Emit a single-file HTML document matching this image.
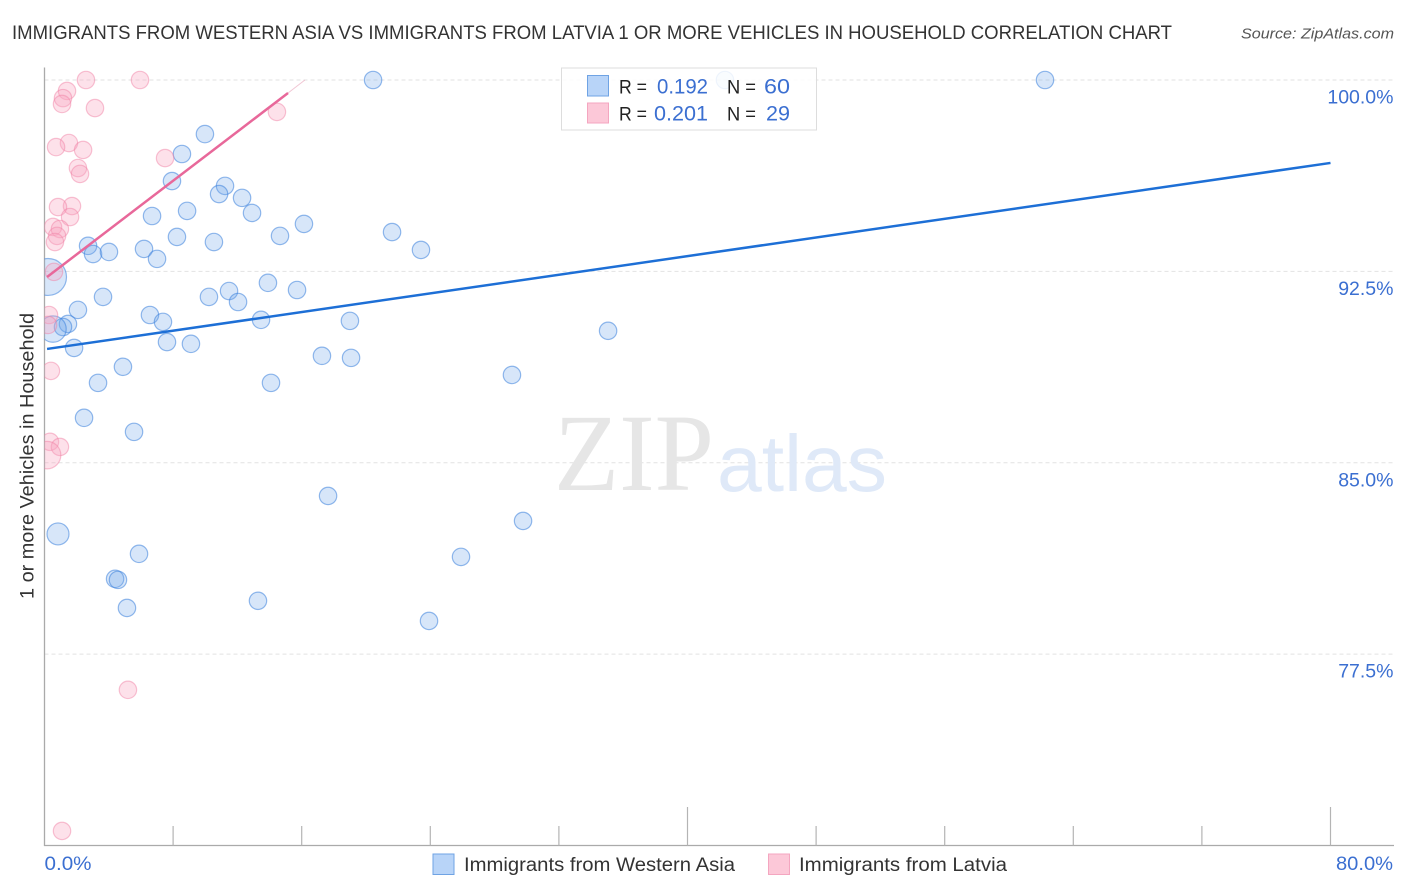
<!DOCTYPE html>
<html lang="en">
<head>
<meta charset="utf-8">
<title>Immigrants from Western Asia vs Immigrants from Latvia correlation chart</title>
<style>
html,body{margin:0;padding:0;background:#fff;width:1406px;height:892px;overflow:hidden}
svg{display:block}
text{font-family:"Liberation Sans",sans-serif}
</style>
</head>
<body>
<svg id="chart" xmlns="http://www.w3.org/2000/svg" width="1406" height="892" viewBox="0 0 1406 892">
  <defs><clipPath id="plot-clip"><rect x="44.5" y="60" width="1350" height="786"/></clipPath></defs>
  <rect x="0" y="0" width="1406" height="892" fill="#fff"/>
  <text x="12" y="39" font-size="19.5" fill="#333" textLength="1160" lengthAdjust="spacingAndGlyphs">IMMIGRANTS FROM WESTERN ASIA VS IMMIGRANTS FROM LATVIA 1 OR MORE VEHICLES IN HOUSEHOLD CORRELATION CHART</text>
  <text x="1241" y="38.5" font-size="15" font-style="italic" fill="#555" textLength="153" lengthAdjust="spacingAndGlyphs">Source: ZipAtlas.com</text>
  <g id="grid"></g>
  <g>
    <text x="554" y="490" style="font-family:'Liberation Serif',serif" font-size="110" fill="#e6e6e6" textLength="160" lengthAdjust="spacingAndGlyphs">ZIP</text>
    <text x="717" y="491" font-size="80" fill="#dfe9f8" textLength="170" lengthAdjust="spacingAndGlyphs">atlas</text>
  </g>
  <g id="axes"></g>
  <g id="marks" clip-path="url(#plot-clip)"></g>
  <g id="trends"></g>
  <g id="ylabels"></g>
  <text transform="translate(33.5,456) rotate(-90)" text-anchor="middle" font-size="19" fill="#333" textLength="286" lengthAdjust="spacingAndGlyphs">1 or more Vehicles in Household</text>
  <text x="44.5" y="870" font-size="19" fill="#3b6fd1" textLength="47" lengthAdjust="spacingAndGlyphs">0.0%</text>
  <text x="1336" y="870" font-size="19" fill="#3b6fd1" textLength="57" lengthAdjust="spacingAndGlyphs">80.0%</text>

  <g>
    <rect x="561.5" y="68" width="255" height="62" fill="#fff" fill-opacity="0.85" stroke="#ddd" stroke-width="1"/>
    <rect x="587.5" y="75.5" width="21" height="20.5" fill="#b8d4f8" stroke="#6fa3e4" stroke-width="1"/>
    <rect x="587.5" y="103" width="21" height="20" fill="#fcc8d8" stroke="#f4a6c0" stroke-width="1"/>
    <text x="619" y="93.5" font-size="19.5" fill="#222" textLength="28" lengthAdjust="spacingAndGlyphs">R =</text>
    <text x="657" y="93.5" font-size="21" fill="#3b6fd1" textLength="51" lengthAdjust="spacingAndGlyphs">0.192</text>
    <text x="727" y="93.5" font-size="19.5" fill="#222" textLength="29" lengthAdjust="spacingAndGlyphs">N =</text>
    <text x="764" y="93.5" font-size="21" fill="#3b6fd1" textLength="26" lengthAdjust="spacingAndGlyphs">60</text>
    <text x="619" y="120.5" font-size="19.5" fill="#222" textLength="28" lengthAdjust="spacingAndGlyphs">R =</text>
    <text x="654" y="120.5" font-size="21" fill="#3b6fd1" textLength="54" lengthAdjust="spacingAndGlyphs">0.201</text>
    <text x="727" y="120.5" font-size="19.5" fill="#222" textLength="29" lengthAdjust="spacingAndGlyphs">N =</text>
    <text x="766" y="120.5" font-size="21" fill="#3b6fd1" textLength="24" lengthAdjust="spacingAndGlyphs">29</text>
  </g>

  <g>
    <rect x="433" y="854" width="21" height="20.5" fill="#b8d4f8" stroke="#6fa3e4" stroke-width="1"/>
    <text x="464" y="871" font-size="19" fill="#333" textLength="271" lengthAdjust="spacingAndGlyphs">Immigrants from Western Asia</text>
    <rect x="768.5" y="854" width="21" height="20.5" fill="#fcc8d8" stroke="#f4a6c0" stroke-width="1"/>
    <text x="799" y="871" font-size="19" fill="#333" textLength="208" lengthAdjust="spacingAndGlyphs">Immigrants from Latvia</text>
  </g>
</svg>
<script>
const yTickValues = [100, 92.5, 85, 77.5];
const yTickLabels = ["100.0%", "92.5%", "85.0%", "77.5%"];
const xTickValues = [8, 16, 24, 32, 40, 48, 56, 64, 72, 80];
const xMajorTicks = [40, 80];

const westernAsiaX = [20.44,42.33,62.24,9.98,8.55,7.93,11.23,10.86,12.29,8.87,12.91,6.69,16.14,14.65,21.62,8.24,10.54,2.71,6.19,3.02,4.01,7.00,23.42,13.90,15.71,11.48,3.64,10.23,12.04,2.08,6.56,7.37,13.47,19.00,1.46,1.15,0.53,0.22,1.84,7.62,9.11,17.26,19.07,35.06,4.88,3.33,14.09,29.08,2.46,5.57,17.64,29.77,0.84,5.88,25.91,4.39,4.57,5.13,13.28,23.92];
const westernAsiaY = [100,100,100,97.88,97.10,96.04,95.85,95.53,95.38,94.87,94.79,94.67,94.36,93.89,94.04,93.85,93.65,93.50,93.38,93.18,93.26,92.99,93.34,92.05,91.77,91.73,91.50,91.50,91.30,90.99,90.79,90.52,90.60,90.56,90.44,90.32,90.24,92.28,89.50,89.73,89.66,89.19,89.11,90.17,88.76,88.13,88.13,88.44,86.76,86.21,83.70,82.72,82.21,81.43,81.31,80.45,80.41,79.31,79.59,78.80];
const westernAsiaWeight = [1,1,1,1,1,1,1,1,1,1,1,1,1,1,1,1,1,1,1,1,1,1,1,1,1,1,1,1,1,1,1,1,1,1,1,1,2.3,4.5,1,1,1,1,1,1,1,1,1,1,1,1,1,1,1.6,1,1,1,1,1,1,1];

const latviaX = [2.58,5.94,1.40,1.15,1.09,3.14,14.46,1.52,0.72,2.40,7.50,2.08,2.21,1.71,0.84,1.59,0.53,0.96,0.78,0.65,0.59,0.28,0.22,0.40,0.34,0.96,0.16,5.19,1.09];
const latviaY = [100,100,99.57,99.29,99.06,98.90,98.75,97.53,97.37,97.26,96.94,96.55,96.32,95.06,95.02,94.63,94.24,94.16,93.89,93.65,92.48,90.79,90.40,88.60,85.82,85.62,85.30,76.10,70.57];
const latviaWeight = [1,1,1,1,1,1,1,1,1,1,1,1,1,1,1,1,1,1,1,1,1,1,1,1,1,1,2.5,1,1];

const westernAsiaTrend = [0.16, 89.46, 80, 96.75];
const latviaTrend = [0.16, 92.28, 15.15, 99.49];
const latviaTrendExtension = [15.15, 99.49, 16.2, 100];

const NS = 'http://www.w3.org/2000/svg';
function xScale(v) { return 44.5 + v * (1330.5 - 44.5) / 80; }
function yScale(v) { return 80 + (100 - v) * (845.5 - 80) / 30; }
function make(tag, attrs, parent) {
  const el = document.createElementNS(NS, tag);
  for (const k in attrs) el.setAttribute(k, attrs[k]);
  parent.appendChild(el);
  return el;
}

const grid = document.getElementById('grid');
const axes = document.getElementById('axes');
const marks = document.getElementById('marks');
const trends = document.getElementById('trends');
const ylabels = document.getElementById('ylabels');

yTickValues.forEach(function (v, i) {
  const line = make('line', {x1: 44.5, x2: 1394, y1: yScale(v), y2: yScale(v), stroke: '#e2e2e2', 'stroke-width': 1, 'stroke-dasharray': '4 3'}, grid);
  
  
  const label = make('text', {x: 1393.5, y: yScale(v) + 23.5, 'text-anchor': 'end', 'font-size': 19.5, fill: '#3b6fd1'}, ylabels);
  
  
  label.textContent = yTickLabels[i];
});

const yAxisLine = make('line', {x1: 44.5, x2: 44.5, y1: 67.5, y2: 846, stroke: '#aaa', 'stroke-width': 1.3}, axes);


const xAxisLine = make('line', {x1: 44, x2: 1394, y1: 845.5, y2: 845.5, stroke: '#aaa', 'stroke-width': 1.3}, axes);


xTickValues.forEach(function (v) {
  const top = xMajorTicks.indexOf(v) >= 0 ? 807 : 826;
  const tick = make('line', {x1: xScale(v), x2: xScale(v), y1: top, y2: 845.5, stroke: '#b4b4b4', 'stroke-width': 1.2}, axes);
  
  
});

function drawSeries(xs, ys, weights, fill, stroke, name) {
  xs.forEach(function (x, i) {
    const c = make('circle', {cx: xScale(x), cy: yScale(ys[i]), r: 8.7 * Math.sqrt(weights[i]), fill: fill, stroke: stroke, 'stroke-width': 1.2}, marks);
    
    
  });
}
drawSeries(westernAsiaX, westernAsiaY, westernAsiaWeight, 'rgba(110,165,235,0.28)', 'rgba(60,130,220,0.55)', 'western-asia-point');
drawSeries(latviaX, latviaY, latviaWeight, 'rgba(248,165,190,0.33)', 'rgba(240,130,165,0.48)', 'latvia-point');

function drawTrend(t, color, width, name, opacity) {
  const l = make('line', {x1: xScale(t[0]), y1: yScale(t[1]), x2: xScale(t[2]), y2: yScale(t[3]), stroke: color, 'stroke-width': width, 'stroke-opacity': opacity}, trends);
  
  
}
drawTrend(westernAsiaTrend, '#1d6fd6', 2.5, 'western-asia-trend-line', 1);
drawTrend(latviaTrend, '#e8689a', 2.5, 'latvia-trend-line', 1);
drawTrend(latviaTrendExtension, '#e8a0b8', 1, 'latvia-trend-extension', 0.6);
</script>
</body>
</html>
